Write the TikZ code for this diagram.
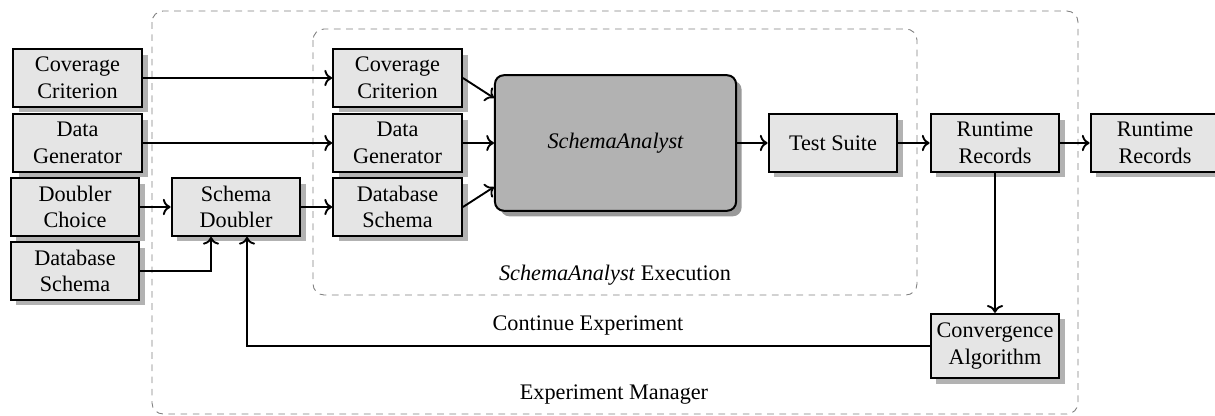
\documentclass[tikz,border=0pt]{standalone}
\usepackage{fontspec}
\setmainfont{Liberation Serif}
\newfontfamily\tmsfont{Liberation Serif}
\usetikzlibrary{shadows,arrows.meta}
\begin{document}
\begin{tikzpicture}[x=0.45pt,y=-0.45pt,
  box/.style={draw,line width=0.9pt,fill=black!10,minimum width=58pt,minimum height=26pt,
    inner sep=0pt,align=center,font=\tmsfont\fontsize{10}{12}\selectfont,
    general shadow={fill=black!30,shadow xshift=2.5pt,shadow yshift=-2.5pt}},
  bigbox/.style={draw,line width=0.9pt,fill=black!30,rounded corners=4pt,minimum width=108.5pt,
    minimum height=61pt,inner sep=0pt,font=\tmsfont\fontsize{10}{12}\selectfont\itshape,
    general shadow={fill=black!40,shadow xshift=2.5pt,shadow yshift=-2.5pt}},
  arr/.style={->,line width=0.85pt},
  frame/.style={draw=black!50,dashed,dash pattern=on 3pt off 2.5pt,line width=0.4pt,rounded corners=5pt},
  lbl/.style={font=\tmsfont\fontsize{10}{12}\selectfont}]
\useasboundingbox (0,0) rectangle (1215,415);
% frames
\draw[frame] (152,11) rectangle (1078,414);
\draw[frame] (313,29) rectangle (917,295);
% nodes
\node[box] (lcc) at (77.5,78) {Coverage\\Criterion};
\node[box] (ldg) at (77.5,143) {Data\\Generator};
\node[box] (dc) at (75,207) {Doubler\\Choice};
\node[box] (lds) at (75,271) {Database\\Schema};
\node[box] (sd) at (236,207) {Schema\\Doubler};
\node[box] (cc) at (397.5,78) {Coverage\\Criterion};
\node[box] (dg) at (397.5,143) {Data\\Generator};
\node[box] (ds) at (397.5,207) {Database\\Schema};
\node[bigbox] (sa) at (615.5,143) {SchemaAnalyst};
\node[box] (ts) at (833,143) {Test Suite};
\node[box] (rr) at (995,143) {Runtime\\Records};
\node[box] (rro) at (1155,143) {Runtime\\Records};
\node[box,minimum height=29pt] (ca) at (995,346) {Convergence\\Algorithm};
% labels
\node[lbl] (lexec) at (615,275) {\textit{SchemaAnalyst} Execution};
\node[lbl] (lcont) at (588,326) {Continue Experiment};
\node[lbl] (lman) at (614,395) {Experiment Manager};
% connectors
\draw[arr] (lcc) -- (cc);
\draw[arr] (ldg) -- (dg);
\draw[arr] (dc) -- (sd);
\draw[arr] (lds.east) -| ([xshift=-11.25pt]sd.south);
\draw[arr] (sd) -- (ds);
\draw[arr] (cc.east) -- ([yshift=20.25pt]sa.west);
\draw[arr] (dg) -- (sa);
\draw[arr] (ds.east) -- ([yshift=-19.8pt]sa.west);
\draw[arr] (sa) -- (ts);
\draw[arr] (ts) -- (rr);
\draw[arr] (rr) -- (rro);
\draw[arr] (rr) -- (ca);
\draw[arr] (ca.west) -| ([xshift=4.95pt]sd.south);
\end{tikzpicture}
\end{document}
